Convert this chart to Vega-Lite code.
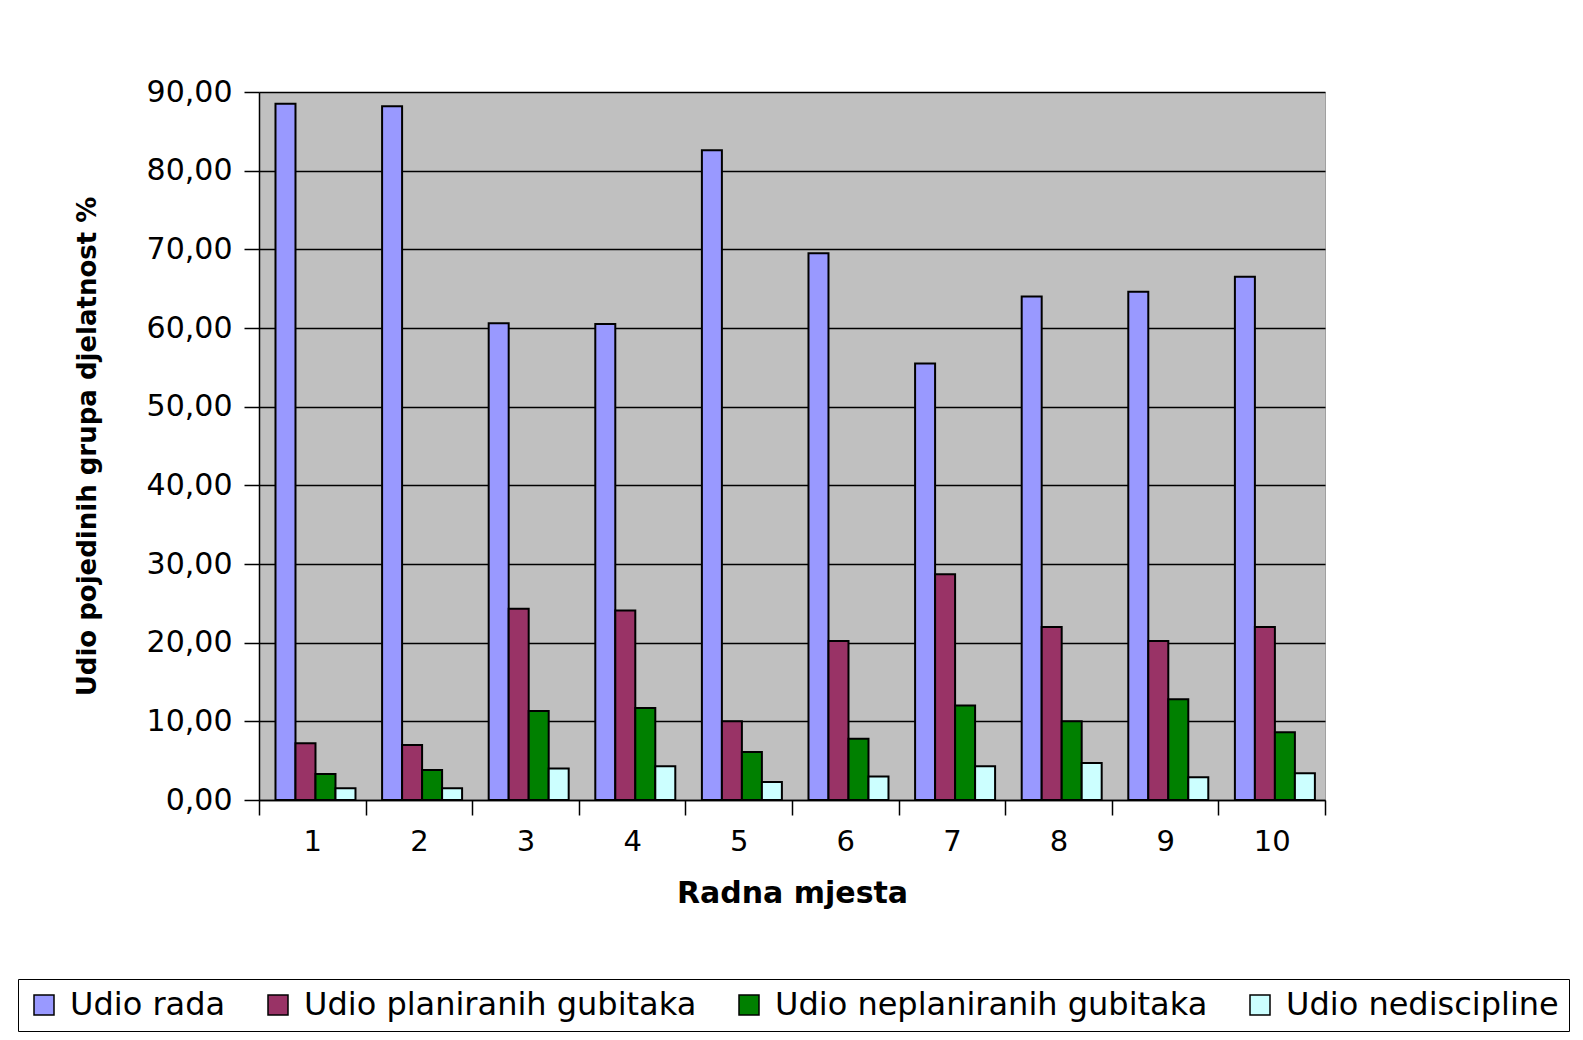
{
  "$schema": "https://vega.github.io/schema/vega-lite/v6.json",
  "autosize": {"type": "none"},
  "width": 1066,
  "height": 708,
  "padding": {"left": 259, "top": 92, "right": 258, "bottom": 240},
  "background": "white",
  "data": {
    "values": [
      {"mjesto": "1", "serija": "Udio rada", "vrijednost": 88.5},
      {"mjesto": "1", "serija": "Udio planiranih gubitaka", "vrijednost": 7.2},
      {"mjesto": "1", "serija": "Udio neplaniranih gubitaka", "vrijednost": 3.3},
      {"mjesto": "1", "serija": "Udio nediscipline", "vrijednost": 1.5},
      {"mjesto": "2", "serija": "Udio rada", "vrijednost": 88.2},
      {"mjesto": "2", "serija": "Udio planiranih gubitaka", "vrijednost": 7.0},
      {"mjesto": "2", "serija": "Udio neplaniranih gubitaka", "vrijednost": 3.8},
      {"mjesto": "2", "serija": "Udio nediscipline", "vrijednost": 1.5},
      {"mjesto": "3", "serija": "Udio rada", "vrijednost": 60.6},
      {"mjesto": "3", "serija": "Udio planiranih gubitaka", "vrijednost": 24.3},
      {"mjesto": "3", "serija": "Udio neplaniranih gubitaka", "vrijednost": 11.3},
      {"mjesto": "3", "serija": "Udio nediscipline", "vrijednost": 4.0},
      {"mjesto": "4", "serija": "Udio rada", "vrijednost": 60.5},
      {"mjesto": "4", "serija": "Udio planiranih gubitaka", "vrijednost": 24.1},
      {"mjesto": "4", "serija": "Udio neplaniranih gubitaka", "vrijednost": 11.7},
      {"mjesto": "4", "serija": "Udio nediscipline", "vrijednost": 4.3},
      {"mjesto": "5", "serija": "Udio rada", "vrijednost": 82.6},
      {"mjesto": "5", "serija": "Udio planiranih gubitaka", "vrijednost": 10.0},
      {"mjesto": "5", "serija": "Udio neplaniranih gubitaka", "vrijednost": 6.1},
      {"mjesto": "5", "serija": "Udio nediscipline", "vrijednost": 2.3},
      {"mjesto": "6", "serija": "Udio rada", "vrijednost": 69.5},
      {"mjesto": "6", "serija": "Udio planiranih gubitaka", "vrijednost": 20.2},
      {"mjesto": "6", "serija": "Udio neplaniranih gubitaka", "vrijednost": 7.8},
      {"mjesto": "6", "serija": "Udio nediscipline", "vrijednost": 3.0},
      {"mjesto": "7", "serija": "Udio rada", "vrijednost": 55.5},
      {"mjesto": "7", "serija": "Udio planiranih gubitaka", "vrijednost": 28.7},
      {"mjesto": "7", "serija": "Udio neplaniranih gubitaka", "vrijednost": 12.0},
      {"mjesto": "7", "serija": "Udio nediscipline", "vrijednost": 4.3},
      {"mjesto": "8", "serija": "Udio rada", "vrijednost": 64.0},
      {"mjesto": "8", "serija": "Udio planiranih gubitaka", "vrijednost": 22.0},
      {"mjesto": "8", "serija": "Udio neplaniranih gubitaka", "vrijednost": 10.0},
      {"mjesto": "8", "serija": "Udio nediscipline", "vrijednost": 4.7},
      {"mjesto": "9", "serija": "Udio rada", "vrijednost": 64.6},
      {"mjesto": "9", "serija": "Udio planiranih gubitaka", "vrijednost": 20.2},
      {"mjesto": "9", "serija": "Udio neplaniranih gubitaka", "vrijednost": 12.8},
      {"mjesto": "9", "serija": "Udio nediscipline", "vrijednost": 2.9},
      {"mjesto": "10", "serija": "Udio rada", "vrijednost": 66.5},
      {"mjesto": "10", "serija": "Udio planiranih gubitaka", "vrijednost": 22.0},
      {"mjesto": "10", "serija": "Udio neplaniranih gubitaka", "vrijednost": 8.6},
      {"mjesto": "10", "serija": "Udio nediscipline", "vrijednost": 3.4}
    ]
  },
  "mark": {"type": "bar", "stroke": "black", "strokeWidth": 2},
  "encoding": {
    "x": {
      "field": "mjesto",
      "type": "ordinal",
      "sort": ["1", "2", "3", "4", "5", "6", "7", "8", "9", "10"],
      "scale": {"paddingInner": 0, "paddingOuter": 0},
      "axis": {
        "title": "Radna mjesta",
        "titleFont": "DejaVu Sans",
        "titleFontSize": 30,
        "titleFontWeight": "bold",
        "titleColor": "black",
        "titlePadding": 22,
        "labelFont": "DejaVu Sans",
        "labelFontSize": 29,
        "labelColor": "black",
        "labelAngle": 0,
        "labelPadding": 12,
        "tickBand": "extent",
        "tickSize": 15,
        "tickColor": "black",
        "tickWidth": 1.5,
        "domainColor": "black",
        "domainWidth": 1.5,
        "grid": false
      }
    },
    "xOffset": {
      "field": "serija",
      "type": "nominal",
      "sort": ["Udio rada", "Udio planiranih gubitaka", "Udio neplaniranih gubitaka", "Udio nediscipline"],
      "scale": {"paddingInner": 0, "paddingOuter": 0.665, "align": 0.62}
    },
    "y": {
      "field": "vrijednost",
      "type": "quantitative",
      "scale": {"domain": [0, 90], "nice": false},
      "axis": {
        "title": "Udio pojedinih grupa djelatnost  %",
        "titleFont": "DejaVu Sans",
        "titleFontSize": 26,
        "titleFontWeight": "bold",
        "titleColor": "black",
        "titlePadding": 46,
        "values": [0, 10, 20, 30, 40, 50, 60, 70, 80, 90],
        "labelExpr": "replace(format(datum.value, '.2f'), '.', ',')",
        "labelFont": "DejaVu Sans",
        "labelFontSize": 30,
        "labelColor": "black",
        "labelPadding": 12,
        "tickSize": 15,
        "tickColor": "black",
        "tickWidth": 1.5,
        "domainColor": "black",
        "domainWidth": 1.5,
        "grid": true,
        "gridColor": "black",
        "gridWidth": 1.5
      }
    },
    "color": {
      "field": "serija",
      "type": "nominal",
      "sort": ["Udio rada", "Udio planiranih gubitaka", "Udio neplaniranih gubitaka", "Udio nediscipline"],
      "scale": {
        "domain": ["Udio rada", "Udio planiranih gubitaka", "Udio neplaniranih gubitaka", "Udio nediscipline"],
        "range": ["#9999FF", "#993366", "#008000", "#CCFFFF"]
      },
      "legend": {
        "title": null,
        "orient": "none",
        "legendX": -241,
        "legendY": 887,
        "direction": "horizontal",
        "columns": 4,
        "strokeColor": "black",
        "padding": 10,
        "columnPadding": 36,
        "labelFont": "DejaVu Sans",
        "labelFontSize": 32,
        "labelColor": "black",
        "labelOffset": 10,
        "labelLimit": 0,
        "symbolType": "square",
        "symbolSize": 400,
        "symbolStrokeColor": "black",
        "symbolStrokeWidth": 1.5
      }
    }
  },
  "config": {
    "view": {"fill": "#C0C0C0", "stroke": "#A0A0A0", "strokeWidth": 1}
  }
}
